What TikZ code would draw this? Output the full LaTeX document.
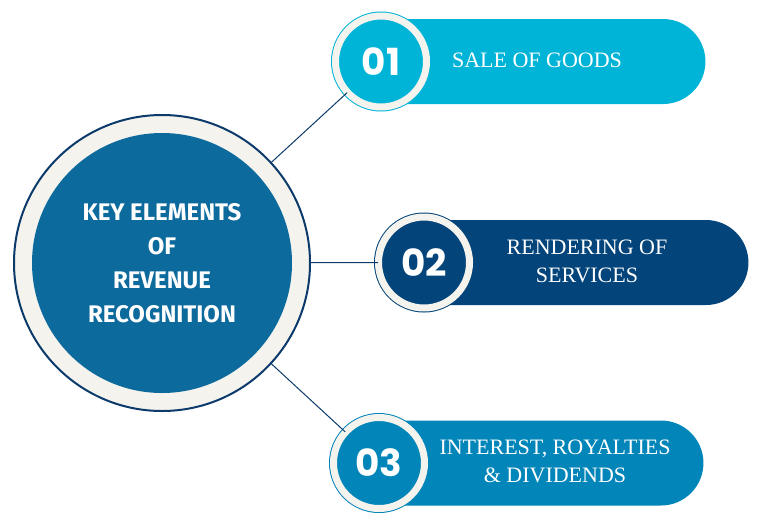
\documentclass[tikz,border=0pt]{standalone}
\usepackage{fontspec}
\setmainfont{Liberation Serif}
\newfontfamily\keyfont{Fira Sans}
\newfontfamily\numfont{Poppins}
\usetikzlibrary{positioning}
\definecolor{cream}{HTML}{F5F3EE}
\definecolor{navyline}{HTML}{0B3A6B}
\definecolor{keyblue}{HTML}{0D6A9C}
\definecolor{cyanitem}{HTML}{00B4D8}
\definecolor{navyitem}{HTML}{03447A}
\definecolor{blueitem}{HTML}{0285B8}

\begin{document}
\begin{tikzpicture}[
  x=0.75pt, y=-0.75pt,
  keyring/.style={circle, draw=navyline, line width=1.5pt, fill=cream, minimum size=222pt, inner sep=0pt},
  keydisc/.style={circle, fill=keyblue, minimum size=195pt, inner sep=0pt, text=white, align=center,
    font=\keyfont\bfseries\fontsize{18}{25.5}\selectfont},
  numring/.style={circle, line width=0.75pt, double=cream, double distance=5.25pt, minimum size=68.25pt,
    inner sep=0pt, text=white, font=\numfont\bfseries\fontsize{28}{30}\selectfont},
  pill/.style={rectangle, rounded corners=31.875pt, minimum width=275pt, minimum height=63.75pt,
    inner sep=0pt, anchor=west},
  itemtext/.style={text=white, align=center, font=\fontsize{16.5}{21}\selectfont},
  link/.style={draw=navyline, line width=0.75pt}]
\useasboundingbox (0,0) rectangle (766,525);
% items
\node[pill, fill=cyanitem] (p1) at (338.5,61.5) {};
\node[pill, fill=navyitem] (p2) at (381.5,262.5) {};
\node[pill, fill=blueitem] (p3) at (336.5,463) {};
\node[numring, fill=cyanitem, draw=cyanitem] (n1) at (381,61.5) {01};
\node[numring, fill=navyitem, draw=navyitem] (n2) at (424,262.5) {02};
\node[numring, fill=blueitem, draw=blueitem] (n3) at (379,463) {03};
\node[itemtext] (t1) at (537,60) {SALE OF GOODS};
\node[itemtext] (t2) at (587,261) {RENDERING OF\\SERVICES};
\node[itemtext] (t3) at (555,461) {INTEREST, ROYALTIES\\\& DIVIDENDS};
% centre
\node[keyring] (ring) at (162,263) {};
\node[keydisc] (key) at (ring) {KEY ELEMENTS\\OF\\REVENUE\\RECOGNITION};
\draw[link] (ring) -- (n1);
\draw[link] (ring) -- (n2);
\draw[link] (ring) -- (n3);
\end{tikzpicture}
\end{document}
